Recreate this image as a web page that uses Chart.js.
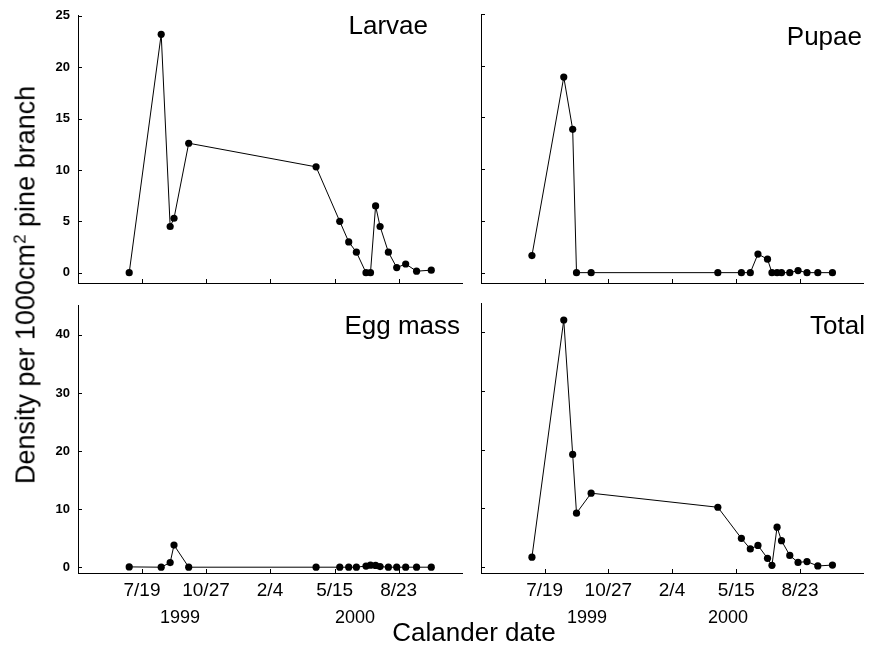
<!DOCTYPE html>
<html>
<head>
<meta charset="utf-8">
<script src="https://cdn.jsdelivr.net/npm/chart.js@4.4.0/dist/chart.umd.min.js"></script>
<style>
  html, body { margin: 0; padding: 0; background: #fff; }
  #wrap { position: relative; width: 871px; height: 650px; overflow: hidden;
          font-family: 'Liberation Sans', Arial, Helvetica, sans-serif; color: #000; }
  #wrap canvas { position: absolute; }
  .lbl { position: absolute; white-space: nowrap; line-height: 1; }
  .ttl { font-size: 26px; }
  .yr { font-size: 18px; }
  #ytitle { font-size: 27px; left: 26px; top: 285px; transform: translate(-50%, -50%) rotate(-90deg); }
  #ytitle sup { font-size: 17px; line-height: 0; vertical-align: 0.55em; }
</style>
</head>
<body>
<div id="wrap">
  <canvas id="cLarvae" width="470" height="300" style="left:0;top:0;width:470px;height:300px"></canvas>
  <canvas id="cPupae" width="441" height="300" style="left:430px;top:0;width:441px;height:300px"></canvas>
  <canvas id="cEgg" width="470" height="360" style="left:0;top:290px;width:470px;height:360px"></canvas>
  <canvas id="cTotal" width="441" height="360" style="left:430px;top:290px;width:441px;height:360px"></canvas>

  <div class="lbl ttl" style="right:443px;top:11.6px">Larvae</div>
  <div class="lbl ttl" style="right:9px;top:22.6px">Pupae</div>
  <div class="lbl ttl" style="right:411px;top:311.6px">Egg mass</div>
  <div class="lbl ttl" style="right:6px;top:311.6px">Total</div>

  <div class="lbl yr" style="left:180px;top:607.7px;transform:translateX(-50%)">1999</div>
  <div class="lbl yr" style="left:355px;top:607.7px;transform:translateX(-50%)">2000</div>
  <div class="lbl yr" style="left:587px;top:607.7px;transform:translateX(-50%)">1999</div>
  <div class="lbl yr" style="left:728px;top:607.7px;transform:translateX(-50%)">2000</div>

  <div class="lbl ttl" style="left:474px;top:618.6px;transform:translateX(-50%)">Calander date</div>
  <div class="lbl" id="ytitle">Density per 1000cm<sup>2</sup> pine branch</div>
</div>

<script>
// Sampling dates, as days since 19 July 1999
const sampleDay = [-20, 30, 44, 50, 73, 272, 309, 323, 335, 350, 357, 365, 372, 385, 398, 412, 429, 452];

// Densities per 1000 cm2 of pine branch
const larvae  = [0, 23.2, 4.5, 5.3, 12.6, 10.3, 5.0, 3.0, 2.0, 0, 0, 6.5, 4.5, 2.0, 0.5, 0.85, 0.15, 0.25];
const pupae   = [1.65, 18.9, 13.85, 0, 0, 0, 0, 0, 1.8, 1.3, 0, 0, 0, 0, 0.2, 0, 0, 0];
const eggMass = [0.05, 0, 0.8, 3.8, 0, 0, 0, 0, 0, 0.2, 0.35, 0.3, 0.1, 0, 0, 0, 0, 0];
const total   = [1.7, 42.1, 19.2, 9.2, 12.6, 10.2, 4.9, 3.1, 3.7, 1.5, 0.3, 6.8, 4.5, 2.0, 0.8, 0.95, 0.2, 0.35];

// Date axis ticks: 7/19/1999, 10/27/1999, 2/4/2000, 5/15/2000, 8/23/2000
const xTickDays   = [0, 100, 200, 301, 401];
const xTickLabels = ['7/19', '10/27', '2/4', '5/15', '8/23'];

// Density axis ticks for the upper and lower rows
const yTicksTop    = [0, 5, 10, 15, 20, 25];
const yTicksBottom = [0, 10, 20, 30, 40];

const FONT = "'Liberation Sans', Arial, Helvetica, sans-serif";

// Short tick marks pointing into the plot area
const innerTicks = {
  id: 'innerTicks',
  afterDraw(chart) {
    const { ctx, chartArea: a, scales: { x, y } } = chart;
    ctx.save();
    ctx.strokeStyle = '#000';
    ctx.lineWidth = 1;
    ctx.beginPath();
    x.ticks.forEach(t => {
      const px = Math.round(x.getPixelForValue(t.value)) + 0.5;
      ctx.moveTo(px, a.bottom);
      ctx.lineTo(px, a.bottom - 4);
    });
    y.ticks.forEach(t => {
      const py = Math.round(y.getPixelForValue(t.value)) + 0.5;
      ctx.moveTo(a.left, py);
      ctx.lineTo(a.left + 4, py);
    });
    ctx.stroke();
    ctx.restore();
  }
};

function panel(id, values, opt) {
  new Chart(document.getElementById(id), {
    type: 'line',
    data: {
      datasets: [{
        data: sampleDay.map((d, i) => ({ x: d, y: values[i] })),
        borderColor: '#000',
        borderWidth: 1,
        pointRadius: 3.6,
        pointBackgroundColor: '#000',
        pointBorderColor: '#000',
        pointBorderWidth: 0,
        tension: 0,
        fill: false,
        clip: false
      }]
    },
    options: {
      responsive: false,
      animation: false,
      devicePixelRatio: 1,
      layout: { padding: { left: 0, right: opt.padRight, top: opt.padTop, bottom: 0 } },
      plugins: { legend: { display: false }, tooltip: { enabled: false } },
      scales: {
        x: {
          type: 'linear',
          min: -100,
          max: 500,
          afterBuildTicks: s => { s.ticks = xTickDays.map(v => ({ value: v })); },
          afterFit: s => { s.height = opt.xHeight; },
          grid: { display: false, drawTicks: false },
          border: { display: true, color: '#000', width: 1 },
          ticks: {
            display: opt.xLabels,
            autoSkip: false,
            maxRotation: 0,
            padding: 6,
            color: '#000',
            font: { family: FONT, size: 19 },
            callback: (v, i) => xTickLabels[i]
          }
        },
        y: {
          type: 'linear',
          min: -1,
          max: opt.yMax,
          afterBuildTicks: s => { s.ticks = opt.yTicks.map(v => ({ value: v })); },
          afterFit: s => { s.width = opt.yWidth; },
          grid: { display: false, drawTicks: false },
          border: { display: true, color: '#000', width: 1 },
          ticks: {
            display: opt.yLabels,
            padding: 8,
            color: '#000',
            font: { family: FONT, size: 13, weight: 'bold' }
          }
        }
      }
    },
    plugins: [innerTicks]
  });
}

panel('cLarvae', larvae,  { yMax: 25, yTicks: yTicksTop,    yLabels: true,  xLabels: false, yWidth: 78, padRight: 8, padTop: 14, xHeight: 17 });
panel('cPupae',  pupae,   { yMax: 25, yTicks: yTicksTop,    yLabels: false, xLabels: false, yWidth: 51, padRight: 8, padTop: 14, xHeight: 17 });
panel('cEgg',    eggMass, { yMax: 45, yTicks: yTicksBottom, yLabels: true,  xLabels: true,  yWidth: 78, padRight: 8, padTop: 13, xHeight: 77 });
panel('cTotal',  total,   { yMax: 45, yTicks: yTicksBottom, yLabels: false, xLabels: true,  yWidth: 51, padRight: 8, padTop: 13, xHeight: 77 });
</script>
</body>
</html>
